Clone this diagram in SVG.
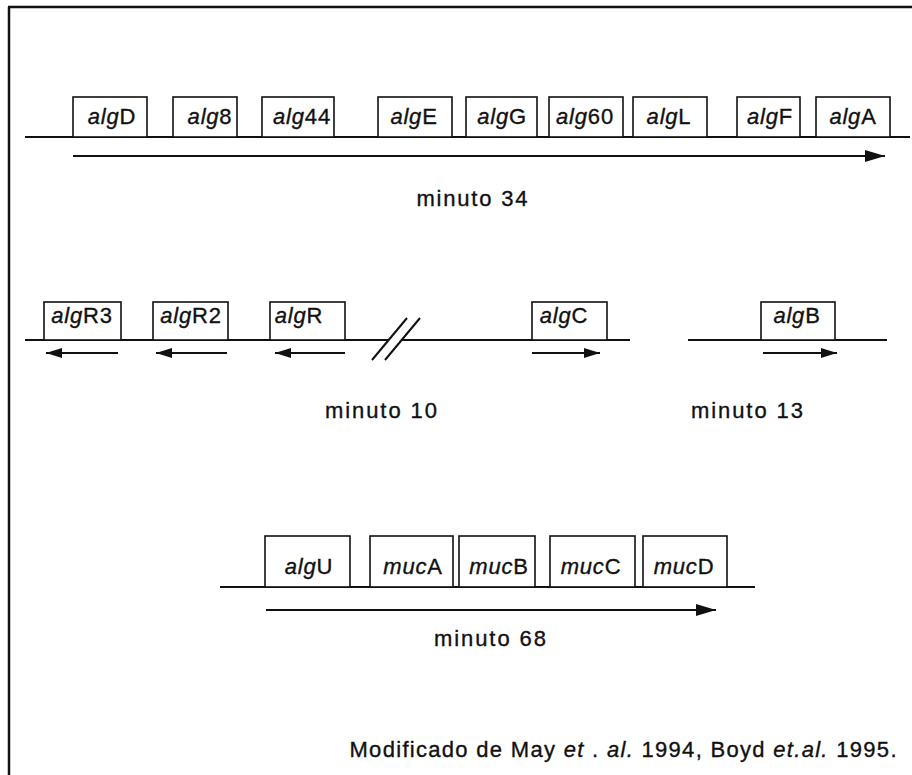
<svg xmlns="http://www.w3.org/2000/svg" width="912" height="775" viewBox="0 0 912 775">
<style>
.box{fill:#fff;stroke:#111;stroke-width:1.6}
.ln{stroke:#111;stroke-width:2;fill:none}
.lbl{font-family:"Liberation Sans",Arial,sans-serif;font-size:22px;fill:#111;stroke:#111;stroke-width:0.35;text-anchor:middle;letter-spacing:0.8px}
.i{font-style:italic}
.cap{font-family:"Liberation Sans",Arial,sans-serif;font-size:22px;fill:#111;stroke:#111;stroke-width:0.35;text-anchor:middle}
</style>
<defs>
<marker id="ah" viewBox="0 0 20 12" refX="20" refY="6" markerWidth="20" markerHeight="12" markerUnits="userSpaceOnUse" orient="auto"><path d="M0,0 L20,6 L0,12 z" fill="#111"/></marker>
<marker id="ahs" viewBox="0 0 16 10" refX="16" refY="5" markerWidth="16" markerHeight="10" markerUnits="userSpaceOnUse" orient="auto"><path d="M0,0 L16,5 L0,10 z" fill="#111"/></marker>
</defs>
<rect width="912" height="775" fill="#fff"/>
<g id="frame" class="ln" style="stroke-width:2.5">
<line x1="8" y1="7" x2="912" y2="7"/>
<line x1="9" y1="7" x2="9" y2="775"/>
</g>
<g id="connectors">
<line class="ln" x1="25" y1="137" x2="910" y2="137"/>
<line class="ln" x1="73" y1="156" x2="885" y2="156" marker-end="url(#ah)"/>
<line class="ln" x1="25" y1="340" x2="389" y2="340"/>
<line class="ln" x1="402" y1="340" x2="630" y2="340"/>
<line class="ln" x1="372" y1="360" x2="407" y2="318"/>
<line class="ln" x1="385" y1="360" x2="420" y2="318"/>
<line class="ln" x1="688" y1="340" x2="887" y2="340"/>
<line class="ln" x1="118" y1="353" x2="46" y2="353" marker-end="url(#ahs)"/>
<line class="ln" x1="227" y1="353" x2="156" y2="353" marker-end="url(#ahs)"/>
<line class="ln" x1="345" y1="353" x2="275" y2="353" marker-end="url(#ahs)"/>
<line class="ln" x1="532" y1="353" x2="600" y2="353" marker-end="url(#ahs)"/>
<line class="ln" x1="763" y1="353" x2="837" y2="353" marker-end="url(#ahs)"/>
<line class="ln" x1="220" y1="587" x2="755" y2="587"/>
<line class="ln" x1="266" y1="610" x2="716" y2="610" marker-end="url(#ah)"/>
</g>
<g id="algD"><rect class="box" x="73" y="97" width="74" height="40"/><text class="lbl" x="112" y="124"><tspan class="i">alg</tspan>D</text></g>
<g id="alg8"><rect class="box" x="173" y="97" width="64" height="40"/><text class="lbl" x="210" y="124"><tspan class="i">alg</tspan>8</text></g>
<g id="alg44"><rect class="box" x="262" y="97" width="72" height="40"/><text class="lbl" x="302" y="124"><tspan class="i">alg</tspan>44</text></g>
<g id="algE"><rect class="box" x="378" y="97" width="74" height="40"/><text class="lbl" x="414" y="124"><tspan class="i">alg</tspan>E</text></g>
<g id="algG"><rect class="box" x="466" y="97" width="71" height="40"/><text class="lbl" x="502" y="124"><tspan class="i">alg</tspan>G</text></g>
<g id="alg60"><rect class="box" x="549" y="97" width="74" height="40"/><text class="lbl" x="585" y="124"><tspan class="i">alg</tspan>60</text></g>
<g id="algL"><rect class="box" x="633" y="97" width="74" height="40"/><text class="lbl" x="669" y="124"><tspan class="i">alg</tspan>L</text></g>
<g id="algF"><rect class="box" x="737" y="97" width="63" height="40"/><text class="lbl" x="770" y="124"><tspan class="i">alg</tspan>F</text></g>
<g id="algA"><rect class="box" x="816" y="97" width="74" height="40"/><text class="lbl" x="853" y="124"><tspan class="i">alg</tspan>A</text></g>
<g id="minuto34"><text class="cap" x="472" y="206" textLength="111" lengthAdjust="spacing">minuto 34</text></g>
<g id="algR3"><rect class="box" x="44" y="302" width="77" height="38"/><text class="lbl" x="82" y="323"><tspan class="i">alg</tspan>R3</text></g>
<g id="algR2"><rect class="box" x="153" y="302" width="75" height="38"/><text class="lbl" x="191" y="323"><tspan class="i">alg</tspan>R2</text></g>
<g id="algR"><rect class="box" x="270" y="302" width="75" height="38"/><text class="lbl" x="299" y="323"><tspan class="i">alg</tspan>R</text></g>
<g id="algC"><rect class="box" x="532" y="302" width="75" height="38"/><text class="lbl" x="564" y="323"><tspan class="i">alg</tspan>C</text></g>
<g id="algB"><rect class="box" x="761" y="302" width="74" height="38"/><text class="lbl" x="797" y="323"><tspan class="i">alg</tspan>B</text></g>
<g id="minuto10"><text class="cap" x="381" y="418" textLength="112" lengthAdjust="spacing">minuto 10</text></g>
<g id="minuto13"><text class="cap" x="747" y="418" textLength="112" lengthAdjust="spacing">minuto 13</text></g>
<g id="algU"><rect class="box" x="265" y="536" width="85" height="51"/><text class="lbl" x="309" y="574"><tspan class="i">alg</tspan>U</text></g>
<g id="mucA"><rect class="box" x="370" y="536" width="83" height="51"/><text class="lbl" x="413" y="574"><tspan class="i">muc</tspan>A</text></g>
<g id="mucB"><rect class="box" x="459" y="536" width="76" height="51"/><text class="lbl" x="499" y="574"><tspan class="i">muc</tspan>B</text></g>
<g id="mucC"><rect class="box" x="550" y="536" width="85" height="51"/><text class="lbl" x="591" y="574"><tspan class="i">muc</tspan>C</text></g>
<g id="mucD"><rect class="box" x="643" y="536" width="84" height="51"/><text class="lbl" x="684" y="574"><tspan class="i">muc</tspan>D</text></g>
<g id="minuto68"><text class="cap" x="490" y="646" textLength="112" lengthAdjust="spacing">minuto 68</text></g>
<g id="footnote"><text class="cap" x="623" y="757" textLength="547" lengthAdjust="spacing">Modificado de May <tspan class="i">et</tspan> . <tspan class="i">al.</tspan>  1994, Boyd <tspan class="i">et.al.</tspan> 1995.</text></g>
</svg>
